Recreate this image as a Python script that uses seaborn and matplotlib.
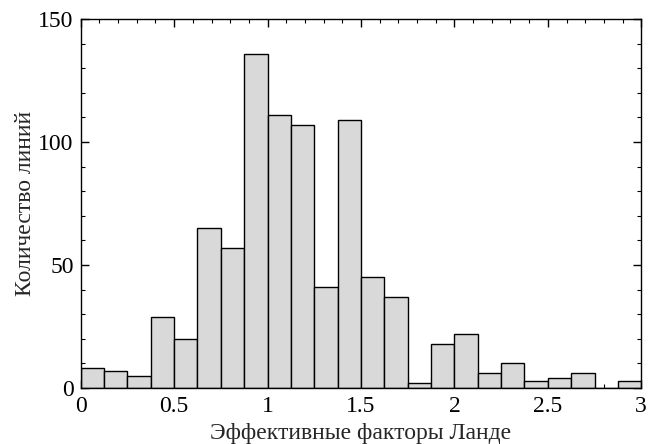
import matplotlib
matplotlib.use("Agg")
import matplotlib.pyplot as plt
import matplotlib.ticker as mticker
import numpy as np
import pandas as pd
import seaborn as sns

# Lande factor histogram: 24 bins of width 0.125 between 0 and 3
bin_centers = np.arange(0.0625, 3, 0.125)
counts = [8, 7, 5, 29, 20, 65, 57, 136, 111, 107, 41, 109,
          45, 37, 2, 18, 22, 6, 10, 3, 4, 6, 0, 3]
x_ticks = [0, 0.5, 1, 1.5, 2, 2.5, 3]
y_ticks = [0, 50, 100, 150]

sns.set_theme(style="ticks")
plt.rcParams["font.family"] = ["Liberation Serif", "DejaVu Serif"]

df = pd.DataFrame({"g": bin_centers, "n": counts})

fig, ax = plt.subplots(figsize=(6.51, 4.44), dpi=100)
sns.histplot(data=df, x="g", weights="n", binwidth=0.125, binrange=(0, 3),
             ax=ax, color="#d9d9d9", edgecolor="black", linewidth=1.0,
             alpha=1.0)

ax.set_xlim(0, 3)
ax.set_ylim(0, 150)
ax.set_xticks(x_ticks)
ax.set_yticks(y_ticks)
ax.xaxis.set_major_formatter(mticker.FormatStrFormatter("%g"))
ax.xaxis.set_minor_locator(mticker.MultipleLocator(0.1))
ax.yaxis.set_minor_locator(mticker.MultipleLocator(10))
ax.tick_params(which="both", direction="in", top=True, right=True,
               labelsize=17, colors="black")
ax.tick_params(which="major", length=6, width=1)
ax.tick_params(axis="x", which="major", pad=6)
ax.tick_params(axis="y", which="major", pad=5)
ax.tick_params(which="minor", length=3, width=0.8)
for sp in ax.spines.values():
    sp.set_color("black")
    sp.set_linewidth(1)

ax.set_xlabel("Эффективные факторы Ланде", fontsize=17, labelpad=4)
ax.set_ylabel("Количество линий", fontsize=17, labelpad=2)

fig.subplots_adjust(left=0.124, right=0.985, top=0.957, bottom=0.126)
fig.savefig("out.png", dpi=100)
